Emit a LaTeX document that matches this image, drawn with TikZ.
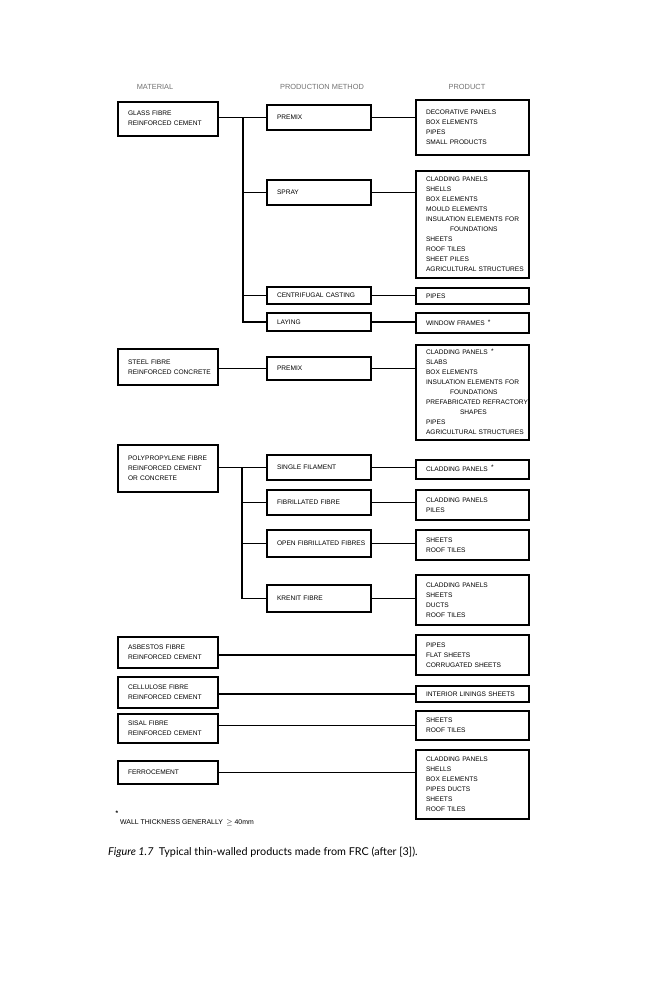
\documentclass[tikz,border=0pt]{standalone}
\usepackage{fontspec}
\setmainfont{Liberation Sans}
\newfontfamily\capfont{Lato}
\newcommand\lns[1]{\begin{tabular}{@{}l@{}}#1\end{tabular}}
\begin{document}
\begin{tikzpicture}[x=1pt,y=-1pt,
  box/.style={draw, line width=1.2pt, inner xsep=10pt, inner ysep=0pt, align=left,
              font=\fontsize{6.6}{10}\selectfont},
  mat/.style={box, text width=80pt},
  meth/.style={box, text width=84pt},
  prod/.style={box, text width=93pt},
  link/.style={line width=1.1pt},
  head/.style={text=black!55, font=\fontsize{7.4}{9}\selectfont, inner sep=0pt}]
\useasboundingbox[fill=white] (0,0) rectangle (666,1000);

% headers
\node[head] (hmat) at (155,87) {MATERIAL};
\node[head] (hmeth) at (322,87) {PRODUCTION METHOD};
\node[head] (hprod) at (467,87) {PRODUCT};

% materials
\node[mat, minimum height=34pt] (glass) at (168,119) {\lns{GLASS FIBRE\\REINFORCED CEMENT}};
\node[mat, minimum height=36pt] (steel) at (168,367) {\lns{STEEL FIBRE\\REINFORCED CONCRETE}};
\node[mat, minimum height=47pt] (poly) at (168,468.5) {\lns{POLYPROPYLENE FIBRE\\REINFORCED CEMENT\\OR CONCRETE}};
\node[mat, minimum height=31pt] (asb) at (168,652.5) {\lns{ASBESTOS FIBRE\\REINFORCED CEMENT}};
\node[mat, minimum height=31pt] (cell) at (168,692.5) {\lns{CELLULOSE FIBRE\\REINFORCED CEMENT}};
\node[mat, minimum height=29pt] (sisal) at (168,728.5) {\lns{SISAL FIBRE\\REINFORCED CEMENT}};
\node[mat, minimum height=23pt] (ferro) at (168,772.5) {\lns{FERROCEMENT}};

% methods
\node[meth, minimum height=25pt] (pmg) at (319,117.5) {\lns{PREMIX}};
\node[meth, minimum height=25pt] (spray) at (319,192.5) {\lns{SPRAY}};
\node[meth, minimum height=17pt] (cen) at (319,295.5) {\lns{CENTRIFUGAL CASTING}};
\node[meth, minimum height=18pt] (lay) at (319,322) {\lns{LAYING}};
\node[meth, minimum height=23pt] (pms) at (319,368.5) {\lns{PREMIX}};
\node[meth, minimum height=25pt] (sf) at (319,467.5) {\lns{SINGLE FILAMENT}};
\node[meth, minimum height=25pt] (fib) at (319,502.5) {\lns{FIBRILLATED FIBRE}};
\node[meth, minimum height=27pt] (ofib) at (319,543.5) {\lns{OPEN FIBRILLATED FIBRES}};
\node[meth, minimum height=27pt] (kr) at (319,598.5) {\lns{KRENIT FIBRE}};

% products
\node[prod, minimum height=55pt] (p1) at (472.5,127.5) {\lns{DECORATIVE PANELS\\BOX ELEMENTS\\PIPES\\SMALL PRODUCTS}};
\node[prod, minimum height=107pt] (p2) at (472.5,224.5) {\lns{CLADDING PANELS\\SHELLS\\BOX ELEMENTS\\MOULD ELEMENTS\\INSULATION ELEMENTS FOR\\\hspace*{24pt}FOUNDATIONS\\SHEETS\\ROOF TILES\\SHEET PILES\\AGRICULTURAL STRUCTURES}};
\node[prod, minimum height=16pt] (p3) at (472.5,296) {\lns{PIPES}};
\node[prod, minimum height=20pt] (p4) at (472.5,323) {\lns{WINDOW FRAMES\enspace\raisebox{1pt}{*}}};
\node[prod, minimum height=95pt] (p5) at (472.5,392.5) {\lns{CLADDING PANELS\enspace\raisebox{1pt}{*}\\SLABS\\BOX ELEMENTS\\INSULATION ELEMENTS FOR\\\hspace*{24pt}FOUNDATIONS\\PREFABRICATED REFRACTORY\\\hspace*{34pt}SHAPES\\PIPES\\AGRICULTURAL STRUCTURES}};
\node[prod, minimum height=19pt] (p6) at (472.5,469.5) {\lns{CLADDING PANELS\enspace\raisebox{2pt}{*}}};
\node[prod, minimum height=30pt] (p7) at (472.5,505) {\lns{CLADDING PANELS\\PILES}};
\node[prod, minimum height=30pt] (p8) at (472.5,545) {\lns{SHEETS\\ROOF TILES}};
\node[prod, minimum height=50pt] (p9) at (472.5,600) {\lns{CLADDING PANELS\\SHEETS\\DUCTS\\ROOF TILES}};
\node[prod, minimum height=40pt] (p10) at (472.5,655) {\lns{PIPES\\FLAT SHEETS\\CORRUGATED SHEETS}};
\node[prod, minimum height=16pt] (p11) at (472.5,694) {\lns{INTERIOR LININGS SHEETS}};
\node[prod, minimum height=29pt] (p12) at (472.5,725.5) {\lns{SHEETS\\ROOF TILES}};
\node[prod, minimum height=69pt] (p13) at (472.5,784.5) {\lns{CLADDING PANELS\\SHELLS\\BOX ELEMENTS\\PIPES DUCTS\\SHEETS\\ROOF TILES}};

% glass fibre connectors
\coordinate (tg) at (243,117.5);
\draw[link] (glass.east |- pmg.west) -- (pmg.west);
\draw[link] (tg) |- (lay.west);
\draw[link] (tg |- spray.west) -- (spray.west);
\draw[link] (tg |- cen.west) -- (cen.west);
\draw[link] (pmg.east) -- (pmg.east -| p1.west);
\draw[link] (spray.east) -- (spray.east -| p2.west);
\draw[link] (cen.east) -- (cen.east -| p3.west);
\draw[link] (lay.east) -- (lay.east -| p4.west);

% steel
\draw[link] (steel.east |- pms.west) -- (pms.west);
\draw[link] (pms.east) -- (pms.east -| p5.west);

% polypropylene
\coordinate (tp) at (242,467.5);
\draw[link] (poly.east |- sf.west) -- (sf.west);
\draw[link] (tp) |- (kr.west);
\draw[link] (tp |- fib.west) -- (fib.west);
\draw[link] (tp |- ofib.west) -- (ofib.west);
\draw[link] (sf.east) -- (sf.east -| p6.west);
\draw[link] (fib.east) -- (fib.east -| p7.west);
\draw[link] (ofib.east) -- (ofib.east -| p8.west);
\draw[link] (kr.east) -- (kr.east -| p9.west);

% direct
\draw[link] (asb.east |- p10.west) -- (p10.west);
\draw[link] (cell.east |- p11.west) -- (p11.west);
\draw[link] (sisal.east |- p12.west) -- (p12.west);
\draw[link] (ferro.east) -- (ferro.east -| p13.west);

% footnote
\node[inner sep=0pt, font=\fontsize{6.6}{8}\selectfont\bfseries] (star) at (117,813) {*};
\node[anchor=west, inner sep=0pt, font=\fontsize{6.9}{8}\selectfont] (fn) at (120,823) {WALL THICKNESS GENERALLY\enspace$\geq$ 40mm};

% caption
\node[anchor=base west, inner sep=0pt, font=\capfont\fontsize{10.8}{12}\selectfont] (cap) at (108,855) {\textit{Figure 1.7}\hspace{0.5em}Typical thin-walled products made from FRC (after [3]).};
\end{tikzpicture}
\end{document}
